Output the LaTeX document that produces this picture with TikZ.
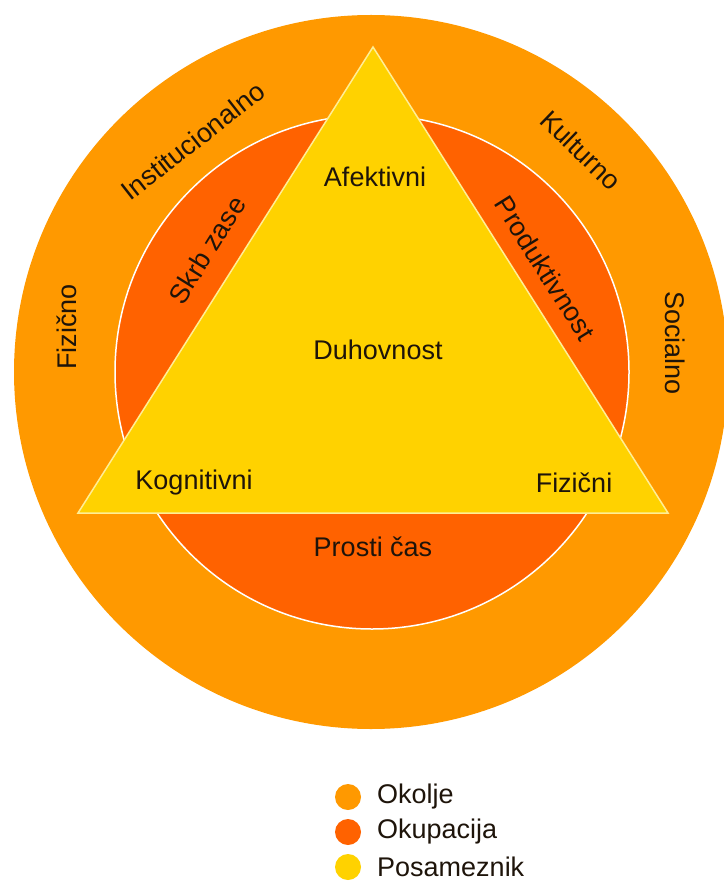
\documentclass[tikz,border=0pt]{standalone}
\usepackage{fontspec}
\setmainfont{Liberation Sans}
\definecolor{okolje}{RGB}{255,153,0}
\definecolor{okupacija}{RGB}{255,98,0}
\definecolor{posameznik}{RGB}{255,210,0}
\definecolor{txt}{RGB}{30,20,10}
\tikzset{
  lbl/.style={inner sep=0pt, text=txt, font=\fontsize{27}{32}\selectfont},
  legdot/.style={circle, minimum size=26pt, inner sep=0pt},
}
\begin{document}
\begin{tikzpicture}[x=1pt,y=-1pt]
\useasboundingbox (0,0) rectangle (723,882);
% outer ring
\fill[okolje] (371,372) circle[radius=357];
% inner circle
\draw[white, line width=1.5pt, fill=okupacija] (372,372) circle[radius=257];
% triangle
\coordinate (tl) at (78,513);
\coordinate (tr) at (668,513);
\coordinate (tt) at (373,47);
\draw[line width=1.5pt, draw={rgb,255:red,255;green,238;blue,150}, fill=posameznik, line join=miter] (tl) -- (tr) -- (tt) -- cycle;
% outer ring labels
\node[lbl, rotate=38] (inst) at (193,141) {Institucionalno};
\node[lbl, rotate=-44] (kult) at (581,150) {Kulturno};
\node[lbl, rotate=90] (fiz) at (67,327) {Fizično};
\node[lbl, rotate=-90] (soc) at (675,343) {Socialno};
% inner ring labels
\node[lbl, rotate=58] (skrb) at (207,250) {Skrb zase};
\node[lbl, rotate=-58] (prod) at (545,268) {Produktivnost};
\node[lbl] (prosti) at (373,547) {Prosti čas};
% triangle labels
\node[lbl] (afek) at (375,177) {Afektivni};
\node[lbl] (duh) at (378,350) {Duhovnost};
\node[lbl] (kog) at (194,483) {Kognitivni};
\node[lbl] (fizi) at (574,483) {Fizični};
% legend
\node[legdot, fill=okolje] (d1) at (348,797) {};
\node[legdot, fill=okupacija] (d2) at (348,832) {};
\node[legdot, fill=posameznik] (d3) at (348,867) {};
\node[lbl, anchor=west] (l1) at (377,797) {Okolje};
\node[lbl, anchor=west] (l2) at (377,832) {Okupacija};
\node[lbl, anchor=west] (l3) at (377,867) {Posameznik};
\end{tikzpicture}
\end{document}
